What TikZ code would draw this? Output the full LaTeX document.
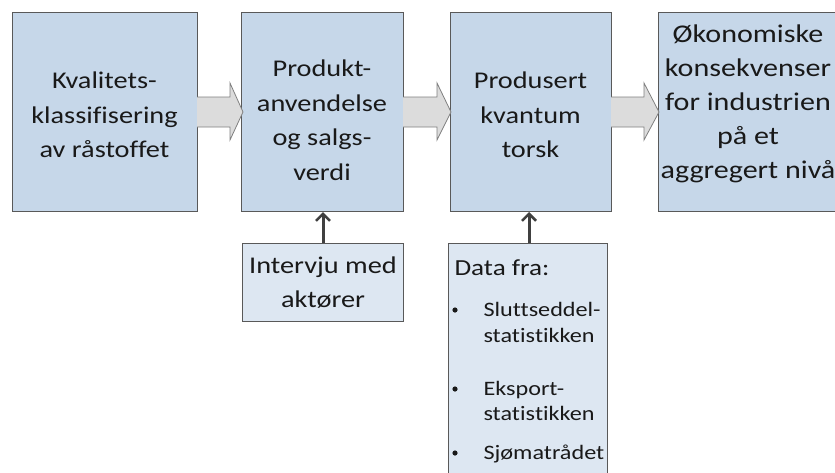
\documentclass[tikz,border=0pt]{standalone}
\usepackage{fontspec}
\setmainfont{Carlito}[FakeStretch=1.18, Ligatures={NoCommon,NoRare,NoContextual}]
\usetikzlibrary{arrows.meta}
\definecolor{boxfill}{HTML}{C6D7E9}
\definecolor{lightfill}{HTML}{DDE7F2}
\definecolor{boxline}{HTML}{595959}
\definecolor{arrfill}{HTML}{DCDCDC}
\definecolor{arrline}{HTML}{7F7F7F}
\definecolor{upline}{HTML}{404040}
\newcommand{\nl}{\kern0pt}
\tikzset{
  mainbox/.style={draw=boxline, line width=1pt, fill=boxfill},
  subbox/.style={draw=boxline, line width=1pt, fill=lightfill},
  bigtxt/.style={align=center, font=\fontsize{24}{34.5}\selectfont, text=black!90},
  smalltxt/.style={anchor=base west, font=\fontsize{20.5}{23}\selectfont, text=black!90},
  blockarrow/.style={draw=arrline, fill=arrfill, line width=0.8pt, line join=miter},
  uparrow/.style={draw=upline, line width=3pt, -{Straight Barb[length=7pt,width=14pt,line width=2.5pt]}}
}
\begin{document}
\begin{tikzpicture}[x=1pt,y=-1pt]
\useasboundingbox (0,0) rectangle (835,472);
% main boxes
\draw[mainbox] (12,12) rectangle (197,211);
\draw[mainbox] (241,12) rectangle (403,211);
\draw[mainbox] (450,12) rectangle (611,211);
\draw[mainbox] (658,12) rectangle (850,211);
\coordinate (b2s) at (323,212);
\coordinate (b3s) at (529,212);
\node[bigtxt] (t1) at (104.5,115) {Kvalitets-\\klassifisering\\av råstoffet};
\node[bigtxt] (t2) at (322,120) {Produkt-\\anvendelse\\og salgs-\\verdi};
\node[bigtxt] (t3) at (530.5,115) {Produsert\\kvantum\\torsk};
\node[bigtxt, font=\fontsize{25.5}{34}\selectfont] (t4) at (748,104) {Økonomiske\\konsekvenser\\for industrien\\på et\\aggregert nivå};
% block arrows
\foreach \xa/\xb/\xc in {197/230/243, 403/437/451, 611/644/659}{
  \draw[blockarrow] (\xa,97) -- (\xb,97) -- (\xb,83) -- (\xc,112) -- (\xb,140) -- (\xb,127) -- (\xa,127);
}
% lower boxes
\node[subbox, minimum width=161pt, minimum height=78pt, anchor=north west] (iv) at (242,243) {};
\node[bigtxt] at (iv.center) {Intervju med\\aktører};
\node[subbox, minimum width=159pt, minimum height=240pt, anchor=north west] (df) at (448,243) {};
\node[anchor=base west, font=\fontsize{23}{26}\selectfont, text=black!90] (dh) at (451,275) {Data fra:};
\node[smalltxt] (s1) at (480,316) {Sluttseddel-};
\node[smalltxt] (s2) at (480,342) {stat\nl is\nl t\nl ikken};
\node[smalltxt] (s3) at (480,395) {Eksport-};
\node[smalltxt] (s4) at (480,420) {stat\nl is\nl t\nl ikken};
\node[smalltxt] (s5) at (480,459) {Sjømatrådet};
\foreach \y in {310,389,453}{ \fill[black!90] (455,\y) circle (2.6pt); }
% up arrows
\draw[uparrow] (iv.north -| b2s) -- (b2s);
\draw[uparrow] (df.north -| b3s) -- (b3s);
\end{tikzpicture}
\end{document}
